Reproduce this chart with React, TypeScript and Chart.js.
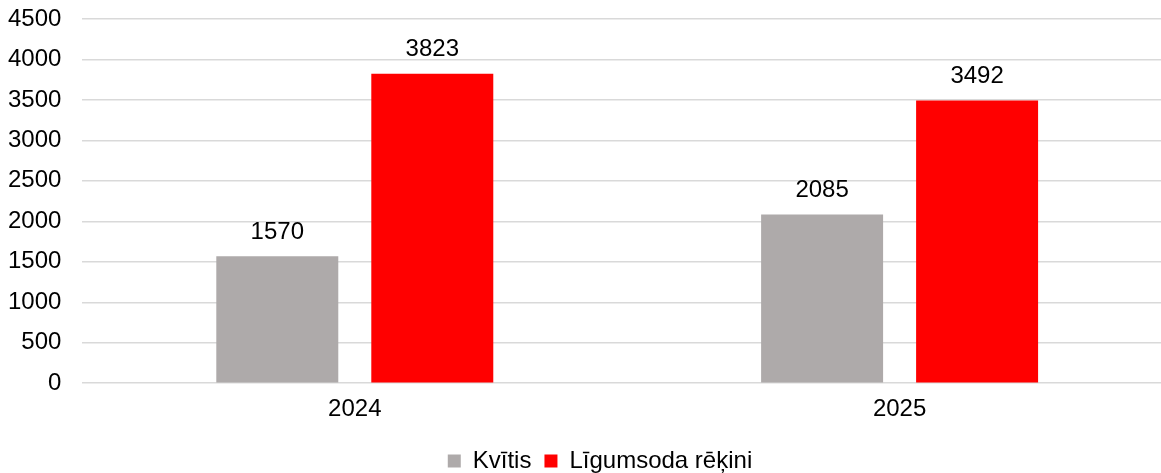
import React, { useEffect, useRef } from "react";
import { Chart, registerables } from "chart.js";

Chart.register(...registerables);

const categories = ["2024", "2025"];
const kvitisValues = [1570, 2085];
const ligumsodaValues = [3823, 3492];
const seriesNames = ["Kvītis", "Līgumsoda rēķini"];
const yTickMax = 4500;
const yTickStep = 500;

const FONT = "'Liberation Sans', Arial, sans-serif";

const valueLabelPlugin = {
  id: "valueLabels",
  afterDatasetsDraw(chart: any) {
    const ctx = chart.ctx;
    ctx.save();
    ctx.font = `24px ${FONT}`;
    ctx.fillStyle = "#000";
    ctx.textAlign = "center";
    ctx.textBaseline = "alphabetic";
    chart.data.datasets.forEach((ds: any, i: number) => {
      const meta = chart.getDatasetMeta(i);
      meta.data.forEach((el: any, j: number) => {
        ctx.fillText(String(ds.data[j]), el.x, el.y - 17.5);
      });
    });
    ctx.restore();
  },
};

export default function App() {
  const ref = useRef<HTMLCanvasElement>(null);
  useEffect(() => {
    if (!ref.current) return;
    const chart = new Chart(ref.current, {
      type: "bar",
      data: {
        labels: categories,
        datasets: [
          {
            label: seriesNames[0],
            data: kvitisValues,
            backgroundColor: "#AEAAAA",
            categoryPercentage: 0.569,
            barPercentage: 0.787,
          },
          {
            label: seriesNames[1],
            data: ligumsodaValues,
            backgroundColor: "#FF0000",
            categoryPercentage: 0.569,
            barPercentage: 0.787,
          },
        ],
      },
      options: {
        animation: false,
        responsive: true,
        maintainAspectRatio: false,
        layout: { padding: { left: 8, right: 8, top: 19, bottom: -10 } },
        plugins: {
          tooltip: { enabled: false },
          legend: {
            position: "bottom",
            labels: {
              boxWidth: 13,
              boxHeight: 13,
              padding: 13,
              color: "#000",
              font: { family: FONT, size: 24 },
            },
          },
        },
        scales: {
          x: {
            grid: { display: false, drawTicks: false },
            border: { display: false },
            ticks: { color: "#000", font: { family: FONT, size: 24 }, padding: 12 },
          },
          y: {
            min: 0,
            max: yTickMax,
            grid: {
              color: "#D9D9D9",
              lineWidth: 1.5,
              drawTicks: true,
              tickLength: 21,
              tickColor: "rgba(0,0,0,0)",
            },
            border: { display: false },
            ticks: {
              stepSize: yTickStep,
              color: "#000",
              font: { family: FONT, size: 24 },
              padding: 0,
              callback: (v: any) => String(v),
            },
          },
          yRight: {
            position: "right",
            display: true,
            grid: { display: false, drawTicks: false },
            border: { display: false },
            ticks: { display: false },
            afterFit(scale: any) {
              scale.width = 20;
            },
          },
        },
      },
      plugins: [valueLabelPlugin],
    });
    return () => chart.destroy();
  }, []);
  return (
    <div style={{ position: "fixed", left: 0, top: 0, width: 1161, height: 473, overflow: "hidden", background: "#fff" }}>
      <div style={{ position: "relative", width: 1200, height: 473 }}>
        <canvas ref={ref} />
      </div>
    </div>
  );
}
